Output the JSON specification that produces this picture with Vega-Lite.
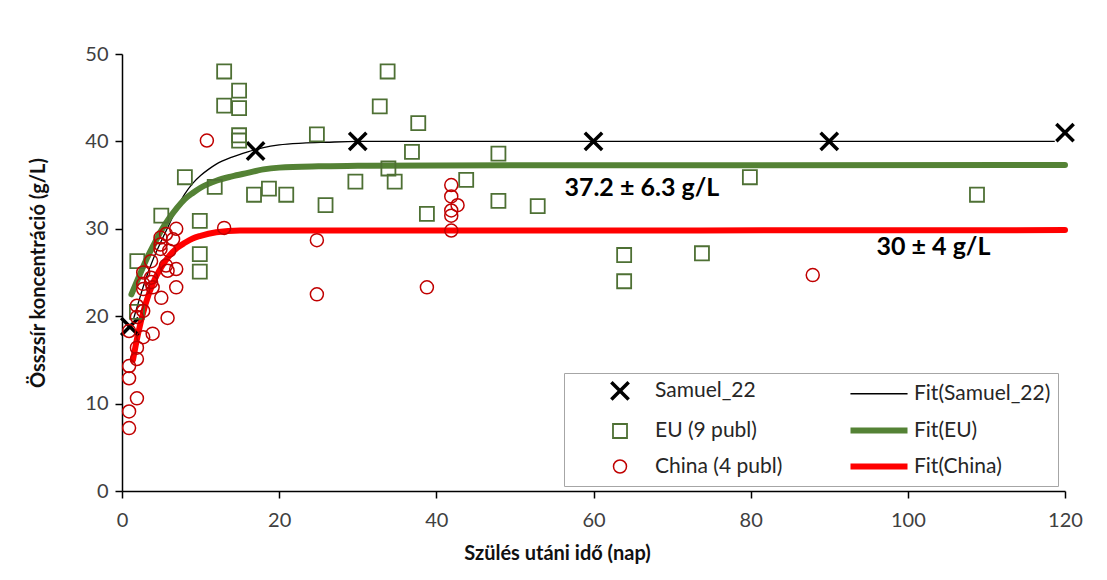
{
  "$schema": "https://vega.github.io/schema/vega-lite/v6.json",
  "width": 943,
  "height": 437,
  "autosize": {"type": "none"},
  "padding": {"left": 122, "top": 54, "right": 42, "bottom": 89},
  "background": "white",
  "config": {"view": {"stroke": null}, "font": "Lato"},
  "datasets": {
    "pts": [
      {"series": "Samuel_22", "x": 1, "y": 18.8},
      {"series": "Samuel_22", "x": 17, "y": 38.9},
      {"series": "Samuel_22", "x": 30, "y": 40},
      {"series": "Samuel_22", "x": 60, "y": 40},
      {"series": "Samuel_22", "x": 90, "y": 40},
      {"series": "Samuel_22", "x": 120, "y": 41},
      {"series": "EU (9 publ)", "x": 1.95, "y": 26.3},
      {"series": "EU (9 publ)", "x": 1.9, "y": 20.5},
      {"series": "EU (9 publ)", "x": 5, "y": 31.5},
      {"series": "EU (9 publ)", "x": 8, "y": 35.9},
      {"series": "EU (9 publ)", "x": 9.9, "y": 30.9},
      {"series": "EU (9 publ)", "x": 9.9, "y": 27.1},
      {"series": "EU (9 publ)", "x": 9.9, "y": 25.1},
      {"series": "EU (9 publ)", "x": 11.8, "y": 34.8},
      {"series": "EU (9 publ)", "x": 13, "y": 48},
      {"series": "EU (9 publ)", "x": 13, "y": 44.1},
      {"series": "EU (9 publ)", "x": 14.9, "y": 45.8},
      {"series": "EU (9 publ)", "x": 14.9, "y": 43.8},
      {"series": "EU (9 publ)", "x": 14.9, "y": 40.7},
      {"series": "EU (9 publ)", "x": 14.9, "y": 40.1},
      {"series": "EU (9 publ)", "x": 16.8, "y": 33.9},
      {"series": "EU (9 publ)", "x": 18.7, "y": 34.6},
      {"series": "EU (9 publ)", "x": 20.9, "y": 33.9},
      {"series": "EU (9 publ)", "x": 24.8, "y": 40.8},
      {"series": "EU (9 publ)", "x": 25.9, "y": 32.7},
      {"series": "EU (9 publ)", "x": 29.7, "y": 35.4},
      {"series": "EU (9 publ)", "x": 32.8, "y": 44},
      {"series": "EU (9 publ)", "x": 33.8, "y": 48},
      {"series": "EU (9 publ)", "x": 33.9, "y": 36.9},
      {"series": "EU (9 publ)", "x": 34.7, "y": 35.4},
      {"series": "EU (9 publ)", "x": 36.9, "y": 38.8},
      {"series": "EU (9 publ)", "x": 37.7, "y": 42.1},
      {"series": "EU (9 publ)", "x": 38.8, "y": 31.7},
      {"series": "EU (9 publ)", "x": 43.8, "y": 35.6},
      {"series": "EU (9 publ)", "x": 47.9, "y": 38.6},
      {"series": "EU (9 publ)", "x": 47.9, "y": 33.2},
      {"series": "EU (9 publ)", "x": 52.9, "y": 32.6},
      {"series": "EU (9 publ)", "x": 63.9, "y": 27},
      {"series": "EU (9 publ)", "x": 63.9, "y": 24},
      {"series": "EU (9 publ)", "x": 73.8, "y": 27.2},
      {"series": "EU (9 publ)", "x": 79.9, "y": 35.9},
      {"series": "EU (9 publ)", "x": 108.8, "y": 33.9},
      {"series": "China (4 publ)", "x": 0.9, "y": 18.3},
      {"series": "China (4 publ)", "x": 0.9, "y": 14.3},
      {"series": "China (4 publ)", "x": 0.9, "y": 12.9},
      {"series": "China (4 publ)", "x": 0.9, "y": 9.1},
      {"series": "China (4 publ)", "x": 0.9, "y": 7.2},
      {"series": "China (4 publ)", "x": 1.9, "y": 21.2},
      {"series": "China (4 publ)", "x": 1.9, "y": 19.9},
      {"series": "China (4 publ)", "x": 1.9, "y": 16.4},
      {"series": "China (4 publ)", "x": 1.9, "y": 15.1},
      {"series": "China (4 publ)", "x": 1.9, "y": 10.6},
      {"series": "China (4 publ)", "x": 2.7, "y": 25},
      {"series": "China (4 publ)", "x": 2.7, "y": 23.7},
      {"series": "China (4 publ)", "x": 2.7, "y": 23.1},
      {"series": "China (4 publ)", "x": 2.7, "y": 20.6},
      {"series": "China (4 publ)", "x": 2.7, "y": 17.6},
      {"series": "China (4 publ)", "x": 3.7, "y": 26.3},
      {"series": "China (4 publ)", "x": 3.7, "y": 24.4},
      {"series": "China (4 publ)", "x": 3.7, "y": 23.9},
      {"series": "China (4 publ)", "x": 3.9, "y": 23.3},
      {"series": "China (4 publ)", "x": 3.9, "y": 18},
      {"series": "China (4 publ)", "x": 4.9, "y": 29},
      {"series": "China (4 publ)", "x": 4.9, "y": 28.2},
      {"series": "China (4 publ)", "x": 4.9, "y": 27.7},
      {"series": "China (4 publ)", "x": 5, "y": 22.1},
      {"series": "China (4 publ)", "x": 5.6, "y": 29.4},
      {"series": "China (4 publ)", "x": 5.6, "y": 25.8},
      {"series": "China (4 publ)", "x": 5.8, "y": 25.2},
      {"series": "China (4 publ)", "x": 5.8, "y": 19.8},
      {"series": "China (4 publ)", "x": 6, "y": 27.5},
      {"series": "China (4 publ)", "x": 6.5, "y": 28.8},
      {"series": "China (4 publ)", "x": 6.9, "y": 30},
      {"series": "China (4 publ)", "x": 6.9, "y": 25.4},
      {"series": "China (4 publ)", "x": 6.9, "y": 23.3},
      {"series": "China (4 publ)", "x": 10.8, "y": 40.1},
      {"series": "China (4 publ)", "x": 13, "y": 30.1},
      {"series": "China (4 publ)", "x": 24.8, "y": 28.7},
      {"series": "China (4 publ)", "x": 24.8, "y": 22.5},
      {"series": "China (4 publ)", "x": 38.8, "y": 23.3},
      {"series": "China (4 publ)", "x": 41.9, "y": 35},
      {"series": "China (4 publ)", "x": 41.9, "y": 33.7},
      {"series": "China (4 publ)", "x": 42.7, "y": 32.7},
      {"series": "China (4 publ)", "x": 41.9, "y": 32.1},
      {"series": "China (4 publ)", "x": 41.9, "y": 31.5},
      {"series": "China (4 publ)", "x": 41.9, "y": 29.8},
      {"series": "China (4 publ)", "x": 87.9, "y": 24.7}
    ],
    "fitSamuel": [
      {"x": 1.5, "y": 19.8}, {"x": 2, "y": 21.3}, {"x": 3, "y": 24.2}, {"x": 4, "y": 26.6},
      {"x": 5, "y": 28.6}, {"x": 6, "y": 30.5}, {"x": 7, "y": 32.4}, {"x": 8, "y": 34},
      {"x": 9, "y": 35.2}, {"x": 10, "y": 36.1}, {"x": 11, "y": 36.8}, {"x": 12, "y": 37.4},
      {"x": 14, "y": 38.2}, {"x": 16, "y": 38.8}, {"x": 18, "y": 39.3}, {"x": 20, "y": 39.6},
      {"x": 23, "y": 39.8}, {"x": 26, "y": 39.9}, {"x": 30, "y": 40}, {"x": 60, "y": 40},
      {"x": 90, "y": 40}, {"x": 118.7, "y": 40}
    ],
    "fitEU": [
      {"x": 1.2, "y": 22.5}, {"x": 2, "y": 24.2}, {"x": 3, "y": 26.3}, {"x": 4, "y": 28.1},
      {"x": 5, "y": 29.8}, {"x": 6, "y": 31.2}, {"x": 7, "y": 32.4}, {"x": 8, "y": 33.4},
      {"x": 9, "y": 34.1}, {"x": 10, "y": 34.7}, {"x": 12, "y": 35.5}, {"x": 14, "y": 36},
      {"x": 16, "y": 36.4}, {"x": 18, "y": 36.8}, {"x": 20, "y": 37}, {"x": 25, "y": 37.15},
      {"x": 30, "y": 37.2}, {"x": 40, "y": 37.25}, {"x": 120, "y": 37.3}
    ],
    "fitChina": [
      {"x": 1.4, "y": 15}, {"x": 2, "y": 17.8}, {"x": 3, "y": 21.4}, {"x": 4, "y": 23.9},
      {"x": 5, "y": 25.6}, {"x": 6, "y": 26.9}, {"x": 7, "y": 27.8}, {"x": 8, "y": 28.4},
      {"x": 9, "y": 28.9}, {"x": 10, "y": 29.2}, {"x": 12, "y": 29.6}, {"x": 15, "y": 29.8},
      {"x": 20, "y": 29.8}, {"x": 120, "y": 29.85}
    ],
    "labels": [
      {"x": 56.3, "y": 34.7, "text": "37.2 ± 6.3 g/L"},
      {"x": 96.0, "y": 27.9, "text": "30 ± 4 g/L"}
    ]
  },
  "encoding": {
    "x": {
      "field": "x", "type": "quantitative",
      "scale": {"domain": [0, 120], "nice": false, "zero": false},
      "axis": {
        "title": "Szülés utáni idő (nap)",
        "values": [0, 20, 40, 60, 80, 100, 120],
        "grid": false,
        "domainColor": "#000000", "domainWidth": 1.5,
        "tickColor": "#000000", "tickWidth": 1.5, "tickSize": 7,
        "labelFont": "Lato", "labelFontSize": 20, "labelColor": "#404040", "labelPadding": 12,
        "labelFlush": false, "labelOverlap": false,
        "titleFont": "Lato", "titleFontSize": 20, "titleFontWeight": "bold", "titleColor": "#111111",
        "titleX": 435, "titleY": 62, "titleBaseline": "middle"
      }
    },
    "y": {
      "field": "y", "type": "quantitative",
      "scale": {"domain": [0, 50], "nice": false},
      "axis": {
        "title": "Összsír koncentráció (g/L)",
        "values": [0, 10, 20, 30, 40, 50],
        "grid": false,
        "domainColor": "#000000", "domainWidth": 1.5,
        "tickColor": "#000000", "tickWidth": 1.5, "tickSize": 7,
        "labelFont": "Lato", "labelFontSize": 20, "labelColor": "#404040", "labelPadding": 7,
        "labelFlush": false, "labelOverlap": false,
        "titleFont": "Lato", "titleFontSize": 20, "titleFontWeight": "bold", "titleColor": "#111111",
        "titleX": -84, "titleBaseline": "middle"
      }
    }
  },
  "layer": [
    {
      "data": {"name": "fitSamuel"},
      "mark": {"type": "line", "interpolate": "monotone", "color": "#000000", "strokeWidth": 1.3},
      "encoding": {}
    },
    {
      "data": {"name": "fitEU"},
      "mark": {"type": "line", "interpolate": "monotone", "color": "#548235", "strokeWidth": 6, "strokeCap": "round"},
      "encoding": {}
    },
    {
      "data": {"name": "fitChina"},
      "mark": {"type": "line", "interpolate": "monotone", "color": "#FF0000", "strokeWidth": 6, "strokeCap": "round"},
      "encoding": {}
    },
    {
      "data": {"name": "pts"},
      "mark": {"type": "point", "filled": false, "opacity": 1},
      "encoding": {
        "color": {
          "field": "series", "type": "nominal",
          "scale": {
            "domain": ["Samuel_22", "EU (9 publ)", "China (4 publ)", "Fit(Samuel_22)", "Fit(EU)", "Fit(China)"],
            "range": ["#000000", "#4E7034", "#C00000", "#000000", "#548235", "#FF0000"]
          },
          "legend": {
            "title": null,
            "orient": "none",
            "legendX": 442,
            "legendY": 319,
            "columns": 2,
            "columnPadding": 47,
            "rowPadding": 11,
            "padding": 7,
            "strokeColor": "#A6A6A6",
            "fillColor": "#FFFFFF",
            "symbolOffset": 38,
            "symbolOpacity": 1,
            "labelOffset": 24,
            "labelFont": "Lato",
            "labelFontSize": 21,
            "labelColor": "#262626",
            "labelLimit": 300
          }
        },
        "shape": {
          "field": "series", "type": "nominal",
          "scale": {
            "domain": ["Samuel_22", "EU (9 publ)", "China (4 publ)", "Fit(Samuel_22)", "Fit(EU)", "Fit(China)"],
            "range": [
              "M-1,-1L1,1M-1,1L1,-1",
              "M-0.73,-0.73L0.73,-0.73L0.73,0.73L-0.73,0.73Z",
              "M0.667,0A0.667,0.667,0,1,1,-0.667,0A0.667,0.667,0,1,1,0.667,0Z",
              "M-2.9,0L2.9,0",
              "M-3.8,0L3.8,0",
              "M-3.8,0L3.8,0"
            ]
          }
        },
        "size": {
          "field": "series", "type": "nominal",
          "scale": {
            "type": "ordinal",
            "domain": ["Samuel_22", "EU (9 publ)", "China (4 publ)", "Fit(Samuel_22)", "Fit(EU)", "Fit(China)"],
            "range": [300, 369, 380, 388, 225, 225]
          }
        },
        "strokeWidth": {
          "field": "series", "type": "nominal",
          "scale": {
            "type": "ordinal",
            "domain": ["Samuel_22", "EU (9 publ)", "China (4 publ)", "Fit(Samuel_22)", "Fit(EU)", "Fit(China)"],
            "range": [3.5, 1.8, 1.5, 1.3, 6, 6]
          }
        }
      }
    },
    {
      "data": {"name": "labels"},
      "mark": {"type": "text", "align": "left", "baseline": "middle", "font": "Lato", "fontSize": 25, "fontWeight": "bold", "color": "#000000"},
      "encoding": {"text": {"field": "text"}}
    }
  ]
}
